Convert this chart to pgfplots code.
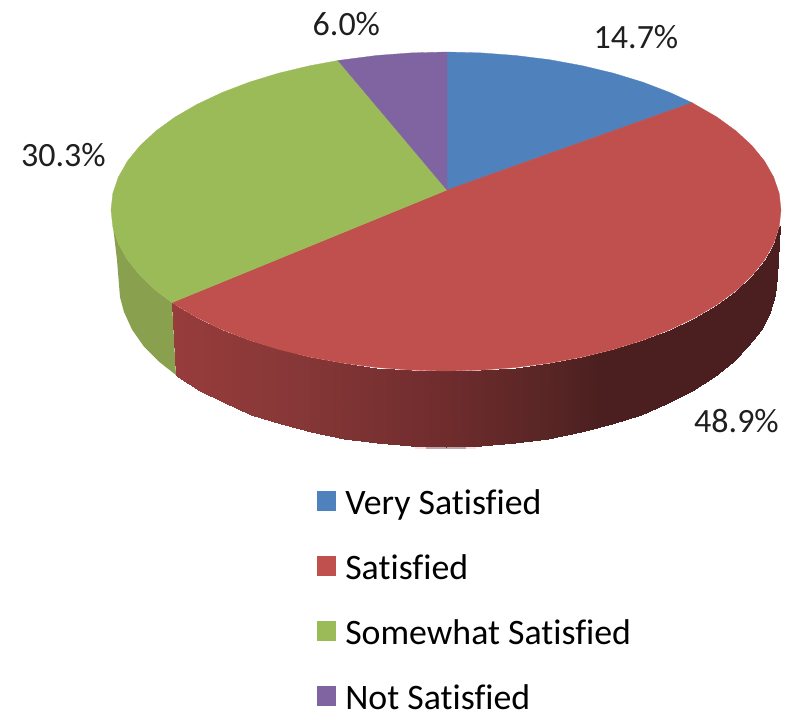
\documentclass[border=0pt]{standalone}
\usepackage{fontspec}
\setmainfont[Ligatures=NoCommon]{Carlito}
\usepackage{pgfplots}
\pgfplotsset{compat=1.18}
\definecolor{cblue}{RGB}{79,129,189}
\definecolor{cred}{RGB}{192,80,77}
\definecolor{cgreen}{RGB}{155,187,89}
\definecolor{cpurple}{RGB}{128,100,162}
\definecolor{cgreenside}{RGB}{137,160,78}
\pgfplotsset{colormap={redside}{rgb255(0pt)=(152,60,60) rgb255(128pt)=(134,55,55) rgb255(274pt)=(111,44,45) rgb255(388pt)=(86,36,36) rgb255(428pt)=(75,31,31) rgb255(609pt)=(75,31,32)}}
\begin{document}
\begin{tikzpicture}
\useasboundingbox (0,0) rectangle (792pt,713pt);
\begin{axis}[
  at={(0,0)}, anchor=south west,
  scale only axis, width=792pt, height=713pt,
  xmin=0, xmax=792, ymin=0, ymax=713, y dir=reverse,
  hide axis, clip=false,
  point meta min=172, point meta max=781,
  colormap name=redside,
  legend cell align=left,
  legend image code/.code={\path[#1] (0pt,-8pt) rectangle (18pt,11pt); \path (28pt,0pt);},
  legend style={at={(axis cs:317,488)}, anchor=north west, draw=none, fill=none,
    inner sep=0pt, outer sep=0pt, row sep=36pt, column sep=0pt,
    font=\fontsize{35.8}{37}\selectfont,
    nodes={inner sep=0pt, text height=26pt, text depth=3pt}},
]
% small pale artefact under the pie
\addplot[forget plot, fill=black!5!red!12!white, draw=none] coordinates {(415,445) (476,445) (476,449) (415,449)} --cycle;
\addplot[forget plot, fill=red!25!black!35!white, draw=none] coordinates {(426,445) (466,445) (466,449) (426,449)} --cycle;
% side of the green slice
\addplot[forget plot, fill=cgreenside, draw=none] coordinates {
  (113,226) (118.3,243.5) (127.4,259.7) (140,275.5) (155.9,290.5) (172,302.6)
  (176,375) (159.4,362) (143.6,346.1) (132,329.5) (124,312) (120,297) (117,260)
} --cycle;
% side of the red slice: upper edge, then lower edge
\addplot[forget plot, surf, shader=interp, mesh/rows=2, point meta=x] table {
x y
172 302.6
175 304.6
197.1 317.7
221.9 329.6
249.1 340.2
278.5 349.4
309.8 357.1
342.5 363.1
376.4 367.5
411 370.1
446 371
481 370.1
515.6 367.5
549.5 363.1
582.2 357.1
613.5 349.4
642.9 340.2
670.1 329.6
694.9 317.7
717 304.6
736.1 290.5
752 275.5
764.6 259.7
773.7 243.5
779.2 226.8
780 226
176 375
178.2 376.9
200 390.7
224.5 403.3
251.4 414.5
280.5 424.2
311.4 432.3
343.7 438.7
377.2 443.3
411.4 446.1
446 447
480.6 446.1
514.8 443.3
548.3 438.7
580.6 432.3
611.5 424.2
640.6 414.5
667.5 403.3
692 390.7
713.8 376.9
732.6 362
748.4 346.1
760.8 329.5
769.7 312.3
775.2 294.8
777 277
};
% top faces
\addplot[fill=cblue, draw=cblue, line width=0.3pt] coordinates {
  (447,190) (692,102.7) (670.1,92.6) (642.9,82.2) (613.5,73.2) (582.2,65.7)
  (549.5,59.7) (515.6,55.5) (481,52.9) (447,52)
} --cycle;
\addlegendentry{Very Satisfied}
\addplot[fill=cred, draw=cred, line width=0.3pt] coordinates {
  (447,190) (172,302.6) (175,304.6) (197.1,317.7) (221.9,329.6) (249.1,340.2)
  (278.5,349.4) (309.8,357.1) (342.5,363.1) (376.4,367.5) (411,370.1) (446,371)
  (481,370.1) (515.6,367.5) (549.5,363.1) (582.2,357.1) (613.5,349.4) (642.9,340.2)
  (670.1,329.6) (694.9,317.7) (717,304.6) (736.1,290.5) (752,275.5) (764.6,259.7)
  (773.7,243.5) (779.2,226.8) (781,210) (779.2,193.5) (773.7,177.2) (764.6,161.2)
  (752,145.7) (736.1,131) (717,117.1) (692,102.7)
} --cycle;
\addlegendentry{Satisfied}
\addplot[fill=cgreen, draw=cgreen, line width=0.3pt] coordinates {
  (447,190) (338,60.5) (309.8,65.7) (278.5,73.2) (249.1,82.2) (221.9,92.6)
  (197.1,104.3) (175,117.1) (155.9,131) (140,145.7) (127.4,161.2) (118.3,177.2)
  (112.8,193.5) (111,210) (112.8,226.8) (118.3,243.5) (127.4,259.7) (140,275.5)
  (155.9,290.5) (172,302.6)
} --cycle;
\addlegendentry{Somewhat Satisfied}
\addplot[fill=cpurple, draw=cpurple, line width=0.3pt] coordinates {
  (447,190) (447,52) (411,52.9) (376.4,55.5) (338,60.5)
} --cycle;
\addlegendentry{Not Satisfied}
\node[anchor=base west, inner sep=0pt, text=black!88, font=\fontsize{34}{35}\selectfont] at (axis cs:593.5,48) {14.7\%};
\node[anchor=base west, inner sep=0pt, text=black!88, font=\fontsize{34}{35}\selectfont] at (axis cs:694,432) {48.9\%};
\node[anchor=base west, inner sep=0pt, text=black!88, font=\fontsize{34}{35}\selectfont] at (axis cs:21,166) {30.3\%};
\node[anchor=base west, inner sep=0pt, text=black!88, font=\fontsize{34}{35}\selectfont] at (axis cs:312.5,35) {6.0\%};
\end{axis}
\end{tikzpicture}
\end{document}
